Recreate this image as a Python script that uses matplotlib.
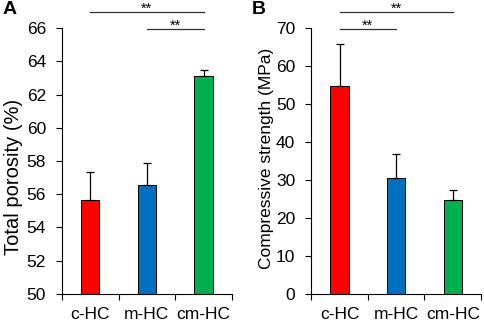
import matplotlib
matplotlib.use('Agg')
import matplotlib.pyplot as plt
import matplotlib.transforms as mtransforms
import numpy as np

plt.rcParams['font.family'] = ['Liberation Sans', 'DejaVu Sans']

groups = ['c-HC', 'm-HC', 'cm-HC']
colors = ['#FF0000', '#0070C0', '#00B050']

porosity = [55.65, 56.55, 63.1]
porosity_err = [1.7, 1.32, 0.4]

strength = [54.8, 30.5, 24.7]
strength_err = [10.9, 6.3, 2.6]


def draw_panel(ax, vals, errs, ylim, ystep, ylabel, lab_size, lab_xy, letter, sig):
	x = np.arange(len(groups))
	ax.bar(x, vals, width=0.32, color=colors, edgecolor='black', linewidth=0.7, zorder=2)
	ax.errorbar(x, vals, yerr=[np.zeros(len(errs)), errs], fmt='none',
				ecolor='black', elinewidth=0.9, capsize=3, capthick=0.9, zorder=3)
	ax.set_xlim(-0.5, 2.5)
	ax.set_ylim(*ylim)
	ax.set_yticks(np.arange(ylim[0], ylim[1] + 0.01, ystep))
	ax.set_xticks(x)
	ax.set_xticklabels(groups)
	ax.set_xticks([-0.5, 0.5, 1.5, 2.5], minor=True)
	ax.tick_params(axis='x', which='major', length=0, labelsize=12.5, pad=9.5)
	ax.tick_params(axis='x', which='minor', length=4, width=0.8, direction='out')
	ax.tick_params(axis='y', length=4, width=0.8, labelsize=12.5, pad=7.5)
	ax.set_ylabel(ylabel, fontsize=lab_size)
	ax.yaxis.set_label_coords(*lab_xy)
	for s in ['top', 'right']:
		ax.spines[s].set_visible(False)
	for s in ['left', 'bottom']:
		ax.spines[s].set_linewidth(0.8)

	trans = mtransforms.blended_transform_factory(ax.transData, ax.transAxes)
	for (i, j, yy) in sig:
		ax.plot([i, j], [yy, yy], color='#333333', lw=0.9, transform=trans, clip_on=False)
		ax.text((i + j) / 2, yy - 0.002, '**', transform=trans, ha='center', va='baseline',
				fontsize=10.5)
	ax.text(-0.35, 1.068, letter, transform=ax.transAxes, fontsize=14, fontweight='bold',
			ha='left', va='center')


fig = plt.figure(figsize=(4.84, 3.22), dpi=100)
axA = fig.add_axes([0.128, 0.087, 0.351, 0.826])
axB = fig.add_axes([0.643, 0.087, 0.351, 0.826])

draw_panel(axA, porosity, porosity_err, (50, 66), 2, 'Total porosity (%)', 14.5,
		   (-0.229, 0.44), 'A', [(0, 2, 1.059), (1, 2, 0.996)])
draw_panel(axB, strength, strength_err, (0, 70), 10, 'Compressive strength (MPa)', 12.5,
		   (-0.218, 0.511), 'B', [(0, 2, 1.059), (0, 1, 0.996)])

fig.savefig('out.png', dpi=100)
